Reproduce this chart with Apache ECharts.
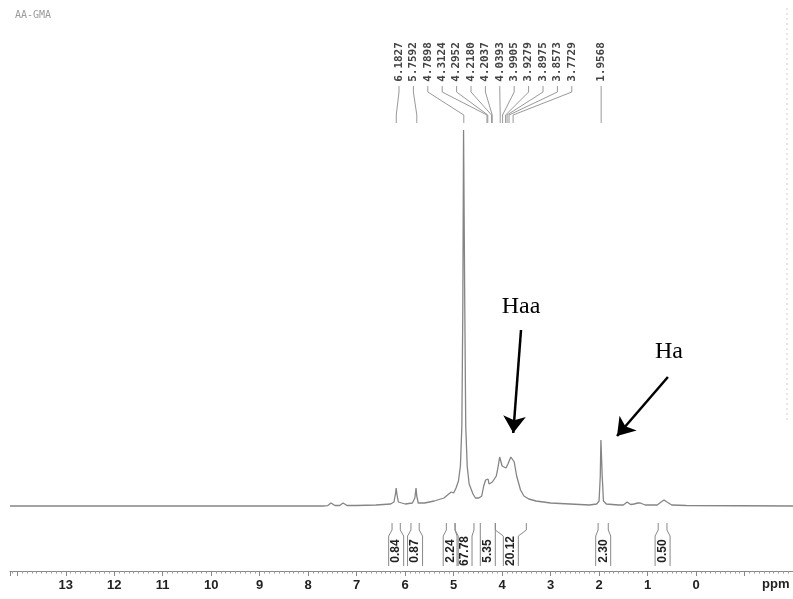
<!DOCTYPE html>
<html>
<head>
<meta charset="utf-8">
<script src="https://cdn.jsdelivr.net/npm/echarts@6/dist/echarts.min.js"></script>
<style>html,body{margin:0;padding:0;background:#fff}#c{width:793px;height:599px}</style>
</head>
<body>
<div id="c"></div>
<script>
// Spectrum trace: chemical shift (ppm) and height above baseline
var specPpm = [14.15, 10, 7.7, 7.6, 7.53, 7.45, 7.35, 7.28, 7.2, 7.0, 6.6, 6.3, 6.23, 6.2, 6.185, 6.17, 6.14, 6.0, 5.85, 5.8, 5.775, 5.76, 5.73, 5.6, 5.4, 5.2, 5.1, 5.05, 5.0, 4.95, 4.9, 4.86, 4.83, 4.81, 4.795, 4.785, 4.77, 4.75, 4.72, 4.68, 4.64, 4.6, 4.55, 4.48, 4.42, 4.38, 4.34, 4.31, 4.29, 4.27, 4.24, 4.2, 4.16, 4.12, 4.08, 4.05, 4.03, 4.0, 3.96, 3.92, 3.88, 3.82, 3.78, 3.75, 3.7, 3.62, 3.55, 3.45, 3.3, 3.0, 2.6, 2.2, 2.05, 2.0, 1.975, 1.962, 1.952, 1.935, 1.91, 1.85, 1.6, 1.5, 1.42, 1.35, 1.28, 1.2, 1.15, 1.05, 0.8, 0.72, 0.66, 0.6, 0.5, 0.2, -2];
var specInt = [0, 0, 0, 0.3, 3, 0.5, 0.5, 3, 0.5, 0.5, 1, 2, 4, 12, 18, 12, 4, 2, 3, 8, 18, 10, 3, 3, 5, 8, 12, 14, 13, 18, 25, 40, 80, 200, 376, 376, 200, 80, 40, 22, 20, 12, 8, 8, 10, 20, 26, 24, 27, 22, 22, 24, 24, 30, 40, 49, 48, 40, 38, 38, 42, 49, 50, 44, 30, 16, 10, 7, 5, 3, 2, 1, 2, 5, 30, 66, 66, 30, 5, 2, 1, 1, 4, 1.5, 2, 3, 3, 1, 1, 4, 6, 4, 1, 0.5, 0];

// Peak pick labels
var peakLabels = ['6.1827', '5.7592', '4.7898', '4.3124', '4.2952', '4.2180', '4.2037', '4.0393', '3.9905', '3.9279', '3.8975', '3.8573', '3.7729', '1.9568'];
var peakPpm = [6.1827, 5.7592, 4.7898, 4.3124, 4.2952, 4.2180, 4.2037, 4.0393, 3.9905, 3.9279, 3.8975, 3.8573, 3.7729, 1.9568];

// Integration regions
var integFrom = [6.27, 5.88, 5.15, 4.97, 4.45, 4.14, 2.02, 0.78];
var integTo = [6.10, 5.71, 4.97, 4.58, 4.14, 3.50, 1.81, 0.60];
var integVal = ['0.84', '0.87', '2.24', '67.78', '5.35', '20.12', '2.30', '0.50'];

// Axis tick labels
var tickLabels = [13, 12, 11, 10, 9, 8, 7, 6, 5, 4, 3, 2, 1, 0];

// Annotations
var annotText = ['Haa', 'Ha'];
var annotTextPos = [[3.61, 199], [0.56, 154]];
var arrowFrom = [[3.61, 176], [0.58, 129]];
var arrowTo = [[3.77, 73], [1.63, 70]];

var chart = echarts.init(document.getElementById('c'), null, {renderer: 'canvas'});

var specData = specPpm.map(function (p, i) { return [p, specInt[i]]; });

var option = {
  animation: false,
  backgroundColor: '#fff',
  title: {
    text: 'AA-GMA', left: 10, top: 5,
    textStyle: {fontFamily: 'DejaVu Sans Mono', fontSize: 10, fontWeight: 'normal', color: '#9a9a9a'}
  },
  grid: {left: 10, right: -2, top: 20, bottom: 28},
  xAxis: {
    type: 'value', inverse: true, min: -2, max: 14.15, interval: 1,
    axisLine: {show: true, onZero: false, lineStyle: {color: '#888', width: 1}},
    axisTick: {show: true, length: 5, lineStyle: {color: '#888'}},
    minorTick: {show: true, splitNumber: 10, length: 2.5, lineStyle: {color: '#999'}},
    splitLine: {show: false},
    axisLabel: {
      margin: 8, fontSize: 13, fontWeight: 'bold', color: '#222', fontFamily: 'Liberation Sans, Arial',
      showMinLabel: false, showMaxLabel: false,
      formatter: function (v) { return tickLabels.indexOf(v) >= 0 ? String(v) : ''; }
    }
  },
  yAxis: {type: 'value', min: -65, max: 486, show: false},
  graphic: [
    {type: 'text', left: 762, top: 578, style: {text: 'ppm', font: 'bold 13px "Liberation Sans", Arial', fill: '#222'}},
    {type: 'line', shape: {x1: 787, y1: 8, x2: 787, y2: 420}, style: {stroke: '#d0d0d0', lineWidth: 1, lineDash: [2, 3]}}
  ],
  series: [
    {
      type: 'line', data: specData, showSymbol: false, smooth: false,
      lineStyle: {color: '#858585', width: 1.3},
      silent: true,
      markLine: {
        silent: true, symbol: ['none', 'arrow'], symbolSize: 17,
        lineStyle: {color: '#000', width: 2.5, type: 'solid'},
        itemStyle: {color: '#000'},
        label: {show: false},
        emphasis: {disabled: true},
        data: arrowFrom.map(function (a, i) { return [{coord: a}, {coord: arrowTo[i]}]; })
      },
      markPoint: {
        silent: true, symbol: 'circle', symbolSize: 0,
        label: {show: true, position: 'inside', color: '#000', fontFamily: 'Liberation Serif, Times New Roman', fontSize: 24,
          formatter: function (p) { return p.name; }},
        data: annotText.map(function (t, i) { return {name: t, coord: annotTextPos[i]}; })
      }
    },
    {
      type: 'custom', silent: true,
      data: peakPpm.map(function (p) { return [p, 0]; }),
      renderItem: function (params, api) {
        var i = params.dataIndex;
        var px = api.coord([api.value(0), 0])[0];
        var lx = i < 13 ? 399 + 14.4 * i : px;
        return {
          type: 'group',
          children: [
            {type: 'text', x: lx, y: 62, rotation: Math.PI / 2,
              style: {text: peakLabels[i], textAlign: 'center', textVerticalAlign: 'middle',
                font: 'bold 11px "DejaVu Sans Mono"', fill: '#444'}},
            {type: 'polyline', shape: {points: [[lx, 86], [lx, 92], [px, 115], [px, 123]]},
              style: {stroke: '#999', fill: null, lineWidth: 1}}
          ]
        };
      }
    },
    {
      type: 'custom', silent: true,
      data: integFrom.map(function (f, i) { return [f, integTo[i], 0]; }),
      encode: {x: [0, 1], y: 2},
      renderItem: function (params, api) {
        var i = params.dataIndex;
        var x1 = api.coord([api.value(0), 0])[0];
        var x2 = api.coord([api.value(1), 0])[0];
        var cx = (x1 + x2) / 2, hw = 7.5;
        var st = {stroke: '#888', fill: null, lineWidth: 1};
        return {
          type: 'group',
          children: [
            {type: 'polyline', shape: {points: [[x1, 523], [x1, 530], [cx - hw, 536], [cx - hw, 566]]}, style: st},
            {type: 'polyline', shape: {points: [[x2, 523], [x2, 530], [cx + hw, 536], [cx + hw, 566]]}, style: st},
            {type: 'text', x: cx, y: 551, rotation: Math.PI / 2,
              style: {text: integVal[i], textAlign: 'center', textVerticalAlign: 'middle',
                font: 'bold 12px "Liberation Sans Narrow", "Liberation Sans", Arial', fill: '#222'}}
          ]
        };
      }
    }
  ]
};
chart.setOption(option);
</script>
</body>
</html>
